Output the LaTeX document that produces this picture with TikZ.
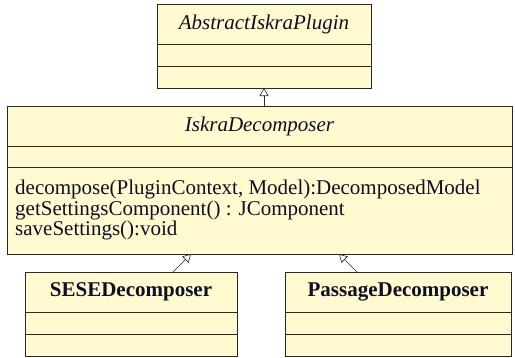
\documentclass[tikz,border=0pt]{standalone}
\usepackage{fontspec}
\setmainfont{Liberation Serif}
\usetikzlibrary{arrows.meta}
\definecolor{classfill}{RGB}{255,250,208}
\definecolor{edge}{RGB}{40,40,40}
\definecolor{ink}{RGB}{15,15,35}
\tikzset{
  classbox/.style={draw=edge, fill=classfill, line width=0.9pt, anchor=north west, inner sep=0pt},
  divider/.style={draw=edge, line width=0.9pt},
  gen/.style={draw=edge, line width=0.6pt, -{Triangle[open, length=8pt, width=9pt]}},
  txt/.style={font=\fontsize{21}{20.5}\selectfont, inner sep=0pt, text=ink},
}
\begin{document}
\begin{tikzpicture}[x=1pt, y=-1pt]
\useasboundingbox (0,0) rectangle (515,357);
% AbstractIskraPlugin
\node[classbox, minimum width=214pt, minimum height=84pt] (top) at (157,4) {};
\draw[divider] (157,44) -- (371,44);
\draw[divider] (157,66) -- (371,66);
\node[txt, font=\fontsize{21}{20.5}\selectfont\itshape] (topname) at (264,24) {AbstractIskraPlugin};
% IskraDecomposer
\node[classbox, minimum width=505pt, minimum height=148pt] (mid) at (7,106) {};
\draw[divider] (7,146) -- (512,146);
\draw[divider] (7,167) -- (512,167);
\node[txt, font=\fontsize{21}{20.5}\selectfont\itshape] (midname) at (259.5,126) {IskraDecomposer};
\node[txt, anchor=north west, align=left] (midops) at (15,180) {decompose(PluginContext, Model):DecomposedModel\\getSettingsComponent() : JComponent\\saveSettings():void};
% SESEDecomposer
\node[classbox, minimum width=212pt, minimum height=84pt] (sese) at (25,272) {};
\draw[divider] (25,312) -- (237,312);
\draw[divider] (25,334) -- (237,334);
\node[txt, font=\fontsize{21}{20.5}\selectfont\bfseries] (sesename) at (131,292) {SESEDecomposer};
% PassageDecomposer
\node[classbox, minimum width=226pt, minimum height=84pt] (pass) at (285,272) {};
\draw[divider] (285,312) -- (511,312);
\draw[divider] (285,334) -- (511,334);
\node[txt, font=\fontsize{21}{20.5}\selectfont\bfseries] (passname) at (398,292) {PassageDecomposer};
% generalizations
\coordinate (midtop) at (264,106);
\coordinate (topbot) at (264,88);
\draw[gen] (midtop) -- (topbot);
\coordinate (sesetop) at (173,272);
\coordinate (midbotA) at (191,254);
\draw[gen] (sesetop) -- (midbotA);
\coordinate (passtop) at (357,272);
\coordinate (midbotB) at (339,254);
\draw[gen] (passtop) -- (midbotB);
\end{tikzpicture}
\end{document}
